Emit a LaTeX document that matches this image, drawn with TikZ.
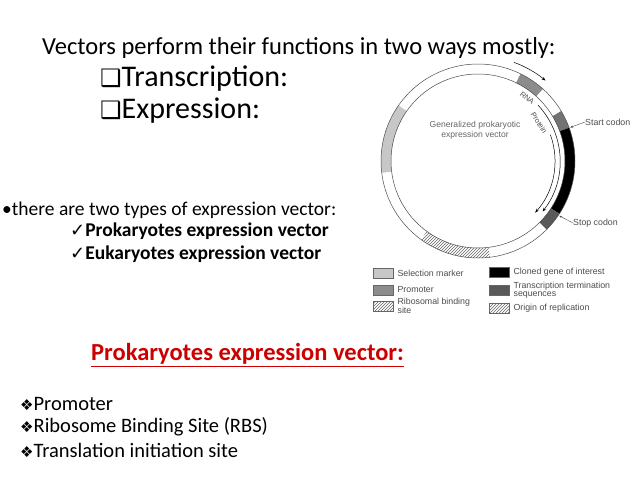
\documentclass[tikz,border=0pt]{standalone}
\usepackage{fontspec}
\setmainfont{Carlito}
\newfontfamily\djv{DejaVu Sans}
\newfontfamily\lhv{Liberation Sans}
\usetikzlibrary{patterns,arrows.meta,positioning}
\begin{document}
\begin{tikzpicture}[x=1pt,y=-1pt,
 txt/.style={anchor=west,inner sep=0pt,font=\fontsize{19.5}{22}\selectfont},
 small/.style={anchor=west,inner sep=0pt,font=\lhv\fontsize{8.8}{9}\selectfont,text=black!70},
 sw/.style={draw=black!60,minimum width=20,minimum height=10,inner sep=0pt,anchor=west}]
\useasboundingbox (0,0) rectangle (638,479);
\fill[white] (0,0) rectangle (638,479);
\node[txt,font=\fontsize{24.5}{26}\selectfont] (t) at (42,48) {Vectors perform their functions in two ways mostly:};
\node[txt,font=\fontsize{30}{32}\selectfont] (t1) at (100,79) {{\djv\fontsize{24}{26}\selectfont ❑}Transcription:};
\node[txt,font=\fontsize{30}{32}\selectfont] (t2) at (100,111) {{\djv\fontsize{24}{26}\selectfont ❑}Expression:};
\node[txt] (b) at (2,210) {•there are two types of expression vector:};
\node[txt,font=\bfseries\fontsize{19.5}{22}\selectfont] (b1) at (70,231) {{\djv\mdseries\fontsize{18}{16}\selectfont ✓}Prokaryotes expression vector};
\node[txt,font=\bfseries\fontsize{19.5}{22}\selectfont] (b2) at (70,254) {{\djv\mdseries\fontsize{18}{16}\selectfont ✓}Eukaryotes expression vector};
\node[txt,font=\bfseries\fontsize{24.5}{26}\selectfont,text={rgb,255:red,204;green,0;blue,0}] (h) at (91,355) {\underline{Prokaryotes expression vector:}};
\node[txt,font=\fontsize{20.5}{22}\selectfont] (p1) at (20,404) {{\djv\fontsize{15}{16}\selectfont ❖}Promoter};
\node[txt,font=\fontsize{20.5}{22}\selectfont] (p2) at (20,427) {{\djv\fontsize{15}{16}\selectfont ❖}Ribosome Binding Site (RBS)};
\node[txt,font=\fontsize{20.5}{22}\selectfont] (p3) at (20,450) {{\djv\fontsize{15}{16}\selectfont ❖}Translation initiation site};
% plasmid
\begin{scope}[shift={(478,161)},y=1pt]
\def\seg#1#2#3{\path[#3] (#1:97) arc[start angle=#1,end angle=#2,radius=97] -- (#2:87) arc[start angle=#2,end angle=#1,radius=87] -- cycle;}
\seg{145}{187}{fill=black!22}
\seg{48}{64}{fill=black!45}
\seg{20}{31}{fill=black!55}
\seg{-33}{20}{fill=black}
\seg{-45}{-33}{fill=black!65}
\seg{234}{277}{pattern=north east lines,pattern color=black!60}
\draw[black!70,line width=0.5pt] (0,0) circle[radius=97] (0,0) circle[radius=87];
\draw[-{Stealth[length=4pt]},line width=0.5pt] (70:105) arc[start angle=70,end angle=50,radius=105];
\draw[-{Stealth[length=4pt]},line width=0.5pt] (43:82) arc[start angle=43,end angle=-38,radius=82];
\draw[-{Stealth[length=4pt]},line width=0.5pt] (20:77) arc[start angle=20,end angle=-42,radius=77];
\node[font=\lhv\fontsize{7.5}{8}\selectfont,text=black!70,rotate=-38] (rna) at (52:80) {RNA};
\node[font=\lhv\fontsize{7.5}{8}\selectfont,text=black!70,rotate=-58] (pro) at (32:72) {Protein};
\node[font=\lhv\fontsize{8.6}{10}\selectfont,text=black!60,align=center] (gen) at (-3,31) {Generalized prokaryotic\\expression vector};
\coordinate (sc) at (20:98);
\coordinate (tc) at (-34:98);
\end{scope}
\node[small] (start) at (585,122) {Start codon};
\node[small] (stop) at (573,223) {Stop codon};
\draw[-{Stealth[length=3pt]},black!70] (start.west) -- (sc);
\draw[-{Stealth[length=3pt]},black!70] (stop.west) -- (tc);
% legend
\node[sw,fill=black!22] (l1) at (373,273) {};
\node[small,right=4pt of l1] (m1) {Selection marker};
\node[sw,fill=black!45] (l2) at (373,290) {};
\node[small,right=4pt of l2] (m2) {Promoter};
\node[sw,pattern=north east lines,pattern color=black!60] (l3) at (373,306) {};
\node[small,right=4pt of l3,align=left,font=\lhv\fontsize{8.8}{8.5}\selectfont] (m3) {Ribosomal binding\\site};
\node[sw,fill=black] (l4) at (489,272) {};
\node[small,right=4pt of l4] (m4) {Cloned gene of interest};
\node[sw,fill=black!65] (l5) at (489,290) {};
\node[small,right=4pt of l5,align=left,font=\lhv\fontsize{8.8}{8.5}\selectfont] (m5) {Transcription termination\\sequences};
\node[sw,pattern=north east lines,pattern color=black!60] (l6) at (489,308) {};
\node[small,right=4pt of l6] (m6) {Origin of replication};
\end{tikzpicture}
\end{document}
